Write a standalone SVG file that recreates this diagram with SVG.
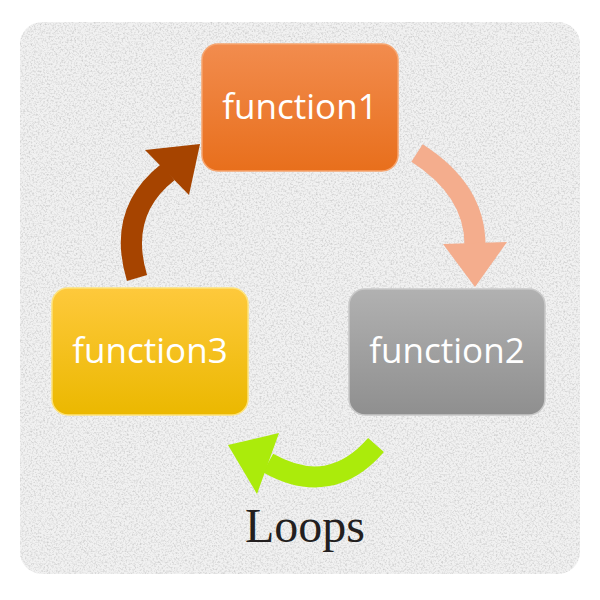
<svg xmlns="http://www.w3.org/2000/svg" width="600" height="600" viewBox="0 0 600 600">
  <defs>
    <style>
      .label { font-family: "Open Sans", "Noto Sans", sans-serif; font-size: 35px; fill: #ffffff; text-anchor: middle; }
      .title { font-family: "Liberation Serif", "DejaVu Serif", serif; font-size: 48px; fill: #231f20; text-anchor: middle; }
      .conn { fill: none; stroke-linecap: butt; stroke-width: 21; }
    </style>
    <filter id="noise" x="0" y="0" width="100%" height="100%">
      <feTurbulence type="fractalNoise" baseFrequency="0.55" numOctaves="3" seed="7" result="t"/>
      <feColorMatrix in="t" type="matrix" values="0 0 0 0 0.62  0 0 0 0 0.62  0 0 0 0 0.62  2.4 0 0 0 -1.05" result="n"/>
      <feComposite in="n" in2="SourceGraphic" operator="in"/>
    </filter>
    <linearGradient id="gOrange" x1="0" y1="0" x2="0" y2="1">
      <stop offset="0" stop-color="#f28c4e"/>
      <stop offset="1" stop-color="#e86f1c"/>
    </linearGradient>
    <linearGradient id="gYellow" x1="0" y1="0" x2="0" y2="1">
      <stop offset="0" stop-color="#fec93c"/>
      <stop offset="1" stop-color="#ebb800"/>
    </linearGradient>
    <linearGradient id="gGray" x1="0" y1="0" x2="0" y2="1">
      <stop offset="0" stop-color="#b1b1b1"/>
      <stop offset="1" stop-color="#8f8f8f"/>
    </linearGradient>
  </defs>

  <rect x="0" y="0" width="600" height="600" fill="#ffffff"/>
  <g id="background">
    <rect x="20" y="22" width="560" height="552" rx="22" fill="#f1f1f1"/>
    <rect x="20" y="22" width="560" height="552" rx="22" fill="#000" filter="url(#noise)"/>
  </g>

  <g id="connectors">
    <g id="arrow-1-2" fill="#f4ad8d" stroke="#f4ad8d">
      <path class="conn" d="M417,153 Q475,190 475,245"/>
      <polygon stroke="none" points="443,244 475,287 507,242"/>
    </g>
    <g id="arrow-2-3" fill="#abeb0b" stroke="#abeb0b">
      <path class="conn" d="M376,445 Q330,498 268,463"/>
      <polygon stroke="none" points="279,433 228,445 257,494"/>
    </g>
    <g id="arrow-3-1" fill="#a64400" stroke="#a64400">
      <path class="conn" d="M137,278 Q117,212 168,172"/>
      <polygon stroke="none" points="145,150 200,144 189,195"/>
    </g>
  </g>

  <g id="node-function1">
    <rect x="202" y="44" width="196" height="127" rx="16" fill="url(#gOrange)" stroke="#f6a46e" stroke-width="1.5"/>
    <text class="label" x="300" y="119">function1</text>
  </g>
  <g id="node-function2">
    <rect x="349" y="289" width="196" height="126" rx="16" fill="url(#gGray)" stroke="#c8c8c8" stroke-width="1.5"/>
    <text class="label" x="447" y="363">function2</text>
  </g>
  <g id="node-function3">
    <rect x="52" y="288" width="196" height="127" rx="16" fill="url(#gYellow)" stroke="#fde27a" stroke-width="1.5"/>
    <text class="label" x="150" y="363">function3</text>
  </g>

  <text class="title" x="305" y="542">Loops</text>
</svg>
